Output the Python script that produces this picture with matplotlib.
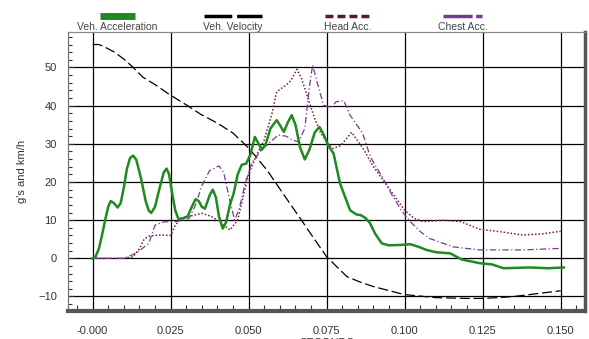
import numpy as np
import matplotlib
matplotlib.use("Agg")
import matplotlib.pyplot as plt
from matplotlib.lines import Line2D
from matplotlib.ticker import MultipleLocator, FixedLocator

plt.rcParams['font.family'] = ['Liberation Sans', 'DejaVu Sans']

# データ
t_acc = [0.000, 0.001, 0.002, 0.003, 0.004, 0.005, 0.0058, 0.0068, 0.0080, 0.0090,
         0.0100, 0.0110, 0.0120, 0.0130, 0.0140, 0.0155, 0.0170, 0.0180, 0.0188, 0.0200,
         0.0215, 0.0228, 0.0237, 0.0245, 0.0255, 0.0265, 0.0275, 0.0290, 0.0305, 0.0315,
         0.0330, 0.0340, 0.0350, 0.0360, 0.0375, 0.0385, 0.0395, 0.0405, 0.0417, 0.0428,
         0.0440, 0.0452, 0.0465, 0.0478, 0.0492, 0.0505, 0.0520, 0.0532, 0.0542, 0.0555,
         0.0570, 0.0590, 0.0603, 0.0613, 0.0625, 0.0638, 0.0650, 0.0665, 0.0680, 0.0695,
         0.0712, 0.0727, 0.0740, 0.0755, 0.0772, 0.0793, 0.0825, 0.0845, 0.0860, 0.0875,
         0.0889, 0.0905, 0.0927, 0.0950, 0.0986, 0.1018, 0.1045, 0.1070, 0.1100, 0.1146,
         0.1183, 0.1242, 0.1280, 0.1317, 0.1400, 0.1460, 0.1510]
veh_acc = [0, 0.5, 2.5, 6, 10, 13.5, 15, 14.5, 13.3, 14.5,
           18.5, 23.5, 26.3, 26.9, 25.8, 21, 15, 12.5, 11.9, 13.5,
           18.5, 22.5, 23.5, 22, 17, 12.5, 10.3, 10.5, 11, 13,
           15.5, 15, 13.5, 13, 16.5, 18, 16, 11, 7.8, 9.5,
           14, 17, 22, 24.5, 24.8, 27, 31.8, 30, 28.4, 30,
           34, 36.2, 34.5, 33.1, 35.5, 37.5, 35, 29, 25.9, 28.5,
           33, 34.4, 32.5, 29.5, 27.5, 19.6, 12.6, 11.5, 11.3, 10.5,
           9.2, 6.5, 3.9, 3.4, 3.5, 3.7, 3.0, 2.2, 1.6, 1.3,
           -0.3, -1.3, -1.6, -2.6, -2.4, -2.6, -2.4]

t_vel = [0.000, 0.002, 0.004, 0.007, 0.010, 0.013, 0.016, 0.020, 0.025, 0.030,
         0.0345, 0.040, 0.045, 0.050, 0.0559, 0.061, 0.0665, 0.070, 0.075, 0.079,
         0.0815, 0.086, 0.090, 0.0975, 0.100, 0.110, 0.120, 0.125, 0.130, 0.135,
         0.142, 0.150]
veh_vel = [56, 56, 55.3, 54, 52.2, 50, 47.5, 45.5, 42.7, 40.2,
           37.8, 35.4, 32.8, 28.9, 23.1, 17, 10.5, 6.3, 0.4, -2.8,
           -4.8, -6.3, -7.4, -9, -9.5, -10.3, -10.5, -10.5, -10.3, -10,
           -9.3, -8.5]

t_head = [0.000, 0.010, 0.013, 0.015, 0.0165, 0.018, 0.020, 0.022, 0.025, 0.0265,
          0.0285, 0.031, 0.035, 0.038, 0.040, 0.044, 0.0465, 0.048, 0.050, 0.0525,
          0.055, 0.0575, 0.059, 0.062, 0.0635, 0.0655, 0.067, 0.069, 0.071, 0.073,
          0.0755, 0.077, 0.0795, 0.083, 0.0865, 0.090, 0.094, 0.097, 0.100, 0.103,
          0.106, 0.1125, 0.118, 0.124, 0.1304, 0.1378, 0.1442, 0.150]
head_acc = [0, 0, 0.4, 2.5, 5, 5.8, 6, 6.1, 6, 8.7,
            10.5, 11, 11.8, 11, 10, 7.4, 10, 15.3, 22, 27,
            31, 38, 43.6, 45.4, 46.5, 49.5, 47, 42, 37, 33,
            30, 28.8, 29.5, 33, 29, 24, 19.5, 16, 12.6, 10.5,
            9.6, 10, 9.6, 7.6, 7, 6.1, 6.4, 7.1]

t_chest = [0.000, 0.010, 0.013, 0.0145, 0.018, 0.020, 0.023, 0.026, 0.029, 0.031,
           0.033, 0.035, 0.0375, 0.0405, 0.042, 0.044, 0.0455, 0.047, 0.049, 0.051,
           0.054, 0.057, 0.0595, 0.062, 0.064, 0.066, 0.068, 0.0695, 0.0705, 0.072,
           0.074, 0.0765, 0.078, 0.0805, 0.0825, 0.0865, 0.089, 0.093, 0.096, 0.099,
           0.1018, 0.105, 0.108, 0.1155, 0.124, 0.138, 0.150]
chest_acc = [0, 0, 1, 1.7, 3.9, 8.7, 9.6, 9.5, 10, 10.5,
             14, 19, 23, 24.2, 22.5, 15, 10, 13, 20, 25,
             28.3, 30.5, 32.3, 32, 31, 30.5, 34, 45, 50.6, 46,
             40.1, 39.5, 41, 41.3, 37.5, 32.8, 26.6, 21, 16.5, 12.5,
             9.6, 7, 5.2, 3, 2.2, 2.2, 2.6]

labels = ["Veh. Acceleration", "Veh. Velocity", "Head Acc.", "Chest Acc."]
x_ticks = [0.0, 0.025, 0.05, 0.075, 0.1, 0.125, 0.15]
x_ticklabels = ["-0.000", "0.025", "0.050", "0.075", "0.100", "0.125", "0.150"]
y_ticks = [-10, 0, 10, 20, 30, 40, 50]

green = "#1f8a1f"
head_color = "#7a2040"
chest_color = "#7a3a8e"

fig = plt.figure(figsize=(5.89, 3.39), dpi=100)
ax = fig.add_axes([0.1154, 0.0826, 0.8778, 0.8221])

ax.plot(t_vel, veh_vel, color="black", lw=0.9, linestyle=(0, (8, 3)))
ax.plot(t_head, head_acc, color=head_color, lw=1.1, linestyle=(0, (1, 1.3)))
ax.plot(t_chest, chest_acc, color=chest_color, lw=0.9, linestyle=(0, (5, 2, 1, 2)))
ax.plot(t_acc, veh_acc, color=green, lw=1.8)

ax.set_xlim(-0.0079, 0.1578)
ax.set_ylim(-13.8, 59.2)
ax.xaxis.set_major_locator(FixedLocator(x_ticks))
ax.set_xticklabels(x_ticklabels)
ax.xaxis.set_minor_locator(MultipleLocator(0.005))
ax.yaxis.set_major_locator(FixedLocator(y_ticks))
ax.yaxis.set_minor_locator(MultipleLocator(2))
ax.grid(True, which="major", color="black", lw=0.9)
ax.set_axisbelow(True)

ax.tick_params(axis="both", which="both", direction="in", labelsize=8, colors="#333333")
ax.tick_params(axis="x", which="major", length=0, pad=11)
ax.tick_params(axis="x", which="minor", length=4, width=0.8)
ax.tick_params(axis="y", which="major", length=4.5, width=0.8, pad=8)
ax.tick_params(axis="y", which="minor", length=3, width=0.8)

ax.spines["left"].set_color("#777777")
ax.spines["top"].set_color("#888888")
ax.spines["left"].set_linewidth(0.9)
ax.spines["top"].set_linewidth(0.9)
ax.spines["right"].set_color("#555555")
ax.spines["right"].set_linewidth(2.5)
ax.spines["bottom"].set_color("#555555")
ax.spines["bottom"].set_linewidth(3)

ax.set_xlabel("SECONDS", fontsize=8, color="#333333", labelpad=1)
ax.set_ylabel("g's and km/h", fontsize=8, color="#333333", labelpad=8)

# 凡例 (上部)
W, H = 589.0, 339.0
legend_styles = [
    dict(color=green, lw=5, ls="-", x0=100, x1=135),
    dict(color="black", lw=2.5, ls=(0, (8, 1.4)), x0=204, x1=262),
    dict(color="#5a1828", lw=2.5, ls=(0, (2.3, 1.15)), x0=325, x1=370),
    dict(color=chest_color, lw=2.5, ls=(0, (8.4, 1.0, 2.2, 1.0)), x0=443, x1=482),
]
for lab, st in zip(labels, legend_styles):
    fig.add_artist(Line2D([st["x0"] / W, st["x1"] / W], [1 - 15.5 / H, 1 - 15.5 / H],
                          color=st["color"], lw=st["lw"], linestyle=st["ls"],
                          solid_capstyle="butt", dash_capstyle="butt"))
    fig.text((st["x0"] + st["x1"]) / 2 / W, 1 - 26.5 / H, lab, ha="center", va="center",
             fontsize=7.5, color="#444444")

fig.savefig("out.png", dpi=100)
